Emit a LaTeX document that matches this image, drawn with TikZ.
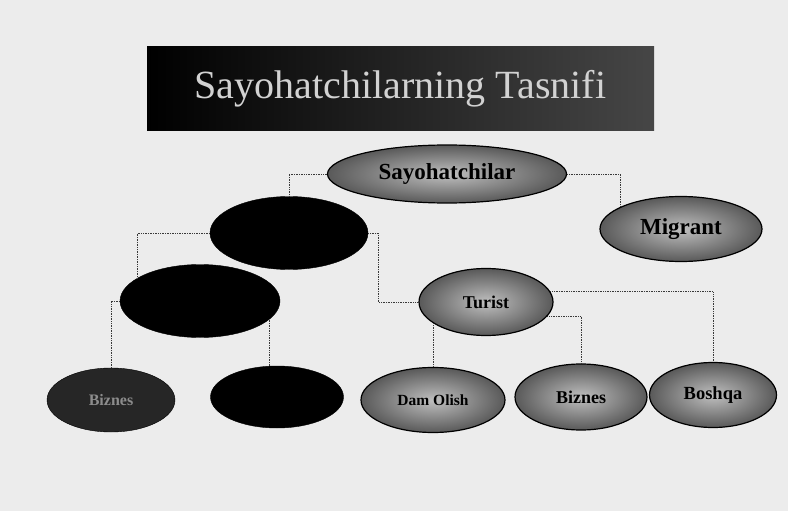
\documentclass[tikz,border=0pt]{standalone}
\usepackage{xcolor}
\usepackage{fontspec}
\setmainfont{Liberation Serif}
\usepackage{tikz}
\usetikzlibrary{
    calc,
    shapes.geometric
}
\tikzset{
    oval/.style={ellipse, draw=black, line width=1.2pt, inner sep=0pt, inner color=gray!50, outer color=gray!70!black},
    darkoval/.style={ellipse, draw=black, fill=black, inner sep=0pt},
    link/.style={densely dotted, line width=0.7pt, gray!45!black},
}

\begin{document}
\begin{tikzpicture}[x=1pt,y=-1pt]
        \fill[gray!15] (0,0) rectangle (788,511);
        \useasboundingbox (0,0) rectangle (788,511);

        \draw (400.5,88.5) node(title)[left color=black, right color=gray!55!black, minimum width=507pt, minimum height=83pt, text=gray!35, font=\fontsize{40}{42}\selectfont]{Sayohatchilarning Tasnifi};

        \draw (447,174) node(say)[oval, minimum width=239pt, minimum height=58pt, font=\bfseries\fontsize{23}{25}\selectfont]{Sayohatchilar};
        \draw (681,229) node(mig)[oval, minimum width=162pt, minimum height=65pt, font=\bfseries\fontsize{23}{25}\selectfont]{Migrant};
        \draw (289,233) node(blk1)[darkoval, minimum width=158pt, minimum height=73pt]{};
        \draw (200,301) node(blk2)[darkoval, minimum width=160pt, minimum height=73pt]{};
        \draw (486,302) node(tur)[oval, minimum width=134pt, minimum height=67pt, font=\bfseries\fontsize{18}{20}\selectfont]{Turist};
        \draw (111,400) node(bizl)[darkoval, fill=black!85, minimum width=128pt, minimum height=64pt, text=black!45, font=\bfseries\fontsize{16}{18}\selectfont]{Biznes};
        \draw (277,397) node(blk3)[darkoval, minimum width=133pt, minimum height=62pt]{};
        \draw (433,400) node(dam)[oval, minimum width=144pt, minimum height=65pt, font=\bfseries\fontsize{15.5}{17}\selectfont]{Dam Olish};
        \draw (581,397) node(biz)[oval, minimum width=132pt, minimum height=66pt, font=\bfseries\fontsize{18}{20}\selectfont]{Biznes};
        \draw (713,395) node(bos)[oval, minimum width=127pt, minimum height=65pt, font=\bfseries\fontsize{18.5}{20}\selectfont]{Boshqa};

        \draw[link] (say.west) -| (blk1.north);
        \draw[link] (say.east) -| (mig.160);
        \draw[link] (blk1.east) -- ++(10,0) |- (tur.west);
        \draw[link] (blk1.west) -| (blk2.160);
        \draw[link] (blk2.west) -| (bizl.north);
        \draw[link] (blk2.-15) -- (blk2.-15 |- blk3.north);
        \draw[link] (tur.-158) -- (tur.-158 |- dam.north);
        \draw[link] (tur.-13) -| (biz.north);
        \draw[link] (tur.9) -| (bos.north);
    \end{tikzpicture}
\end{document}
